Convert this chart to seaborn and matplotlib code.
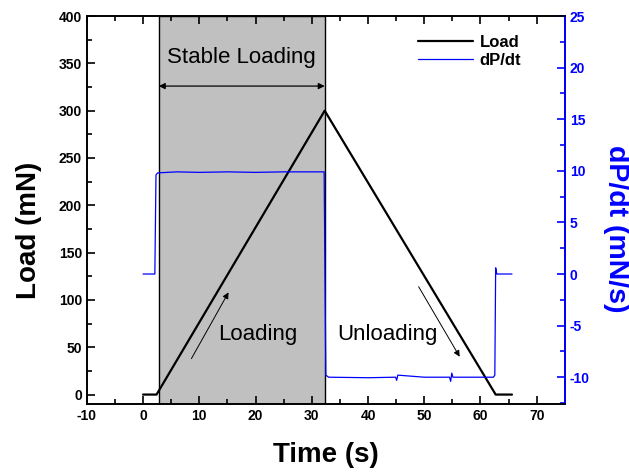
import seaborn as sns
import pandas as pd
import matplotlib.pyplot as plt
from matplotlib.ticker import MultipleLocator

# load curve (mN) vs time (s)
load_time = [0, 2.4, 32.3, 62.7, 65.6]
load_mN = [0, 0, 300, 0, 0]

# loading rate dP/dt (mN/s) vs time (s)
rate_time = [0, 2.1, 2.3, 2.6, 6, 10, 15, 20, 25, 30, 32.2, 32.5, 33, 40,
             44.9, 45.1, 45.3, 50, 54.5, 54.7, 54.9, 55.1, 60, 62.3,
             62.55, 62.7, 62.9, 65.6]
rate_mNs = [0, 0, 9.6, 9.8, 9.9, 9.85, 9.9, 9.85, 9.9, 9.9, 9.9, -9.8, -10,
            -10.05, -10, -10.3, -9.8, -10, -10, -10.4, -9.6, -10, -10, -10,
            -9.8, 0.6, 0, 0]

# stable loading window
stable_start, stable_end = 2.8, 32.3

load_df = pd.DataFrame({'Time': load_time, 'Load': load_mN})
rate_df = pd.DataFrame({'Time': rate_time, 'Rate': rate_mNs})

sns.set_style('ticks')
plt.rcParams['font.family'] = ['Liberation Sans', 'DejaVu Sans']
plt.rcParams['axes.linewidth'] = 1.2
plt.rcParams['axes.unicode_minus'] = False
plt.rcParams['text.color'] = 'black'
plt.rcParams['axes.labelcolor'] = 'black'
plt.rcParams['axes.edgecolor'] = 'black'
plt.rcParams['xtick.color'] = 'black'
plt.rcParams['ytick.color'] = 'black'

fig = plt.figure(figsize=(6.29, 4.72), dpi=100)
ax = fig.add_axes([0.138, 0.144, 0.76, 0.822])
ax2 = ax.twinx()

ax.axvspan(stable_start, stable_end, facecolor='#c0c0c0', edgecolor='black',
           lw=1, zorder=0)

sns.lineplot(data=load_df, x='Time', y='Load', ax=ax, color='black', lw=1.6,
             estimator=None, sort=False, label='Load')
sns.lineplot(data=rate_df, x='Time', y='Rate', ax=ax2, color='#0000ff', lw=0.9,
             estimator=None, sort=False, label='dP/dt')

ax.set_xlim(-10, 75)
ax.set_ylim(-10, 400)
ax2.set_ylim(-12.6, 25)

ax.xaxis.set_major_locator(MultipleLocator(10))
ax.xaxis.set_minor_locator(MultipleLocator(5))
ax.yaxis.set_major_locator(MultipleLocator(50))
ax.yaxis.set_minor_locator(MultipleLocator(25))
ax2.yaxis.set_major_locator(MultipleLocator(5))
ax2.yaxis.set_minor_locator(MultipleLocator(2.5))

ax.tick_params(which='both', direction='in', top=True, right=False,
               labelsize=10, width=1.2)
ax.tick_params(which='major', length=6)
ax.tick_params(which='minor', length=3.5)
ax2.tick_params(which='both', direction='in', colors='#0000ff',
                labelsize=10, width=1.2)
ax2.tick_params(which='major', length=6)
ax2.tick_params(which='minor', length=3.5)
for lab in ax.get_xticklabels() + ax.get_yticklabels() + ax2.get_yticklabels():
    lab.set_fontweight('bold')
ax2.spines['right'].set_color('#0000ff')
ax2.spines['right'].set_linewidth(1.4)

ax.set_xlabel('Time (s)', fontsize=20, fontweight='bold')
ax.set_ylabel('Load (mN)', fontsize=20, fontweight='bold')
ax2.set_ylabel('dP/dt (mN/s)', fontsize=20.5, fontweight='bold',
               color='#0000ff', rotation=270)
ax.xaxis.set_label_coords(0.5, -0.131)
ax.yaxis.set_label_coords(-0.12, 0.448)
ax2.yaxis.set_label_coords(1.107, 0.452)
for lbl in (ax.xaxis.label, ax.yaxis.label, ax2.yaxis.label):
    lbl.set_va('center')
    lbl.set_ha('center')

# annotations
ax.text((stable_start + stable_end) / 2, 356, 'Stable Loading', fontsize=16,
        ha='center', va='center')
ax.annotate('', xy=(stable_start, 326), xytext=(stable_end, 326),
            arrowprops=dict(arrowstyle='<|-|>', color='black', lw=0.9,
                            mutation_scale=9, shrinkA=0, shrinkB=0))
ax.text(20.4, 64, 'Loading', fontsize=16, ha='center', va='center')
ax.annotate('', xy=(15.2, 108), xytext=(8.6, 38),
            arrowprops=dict(arrowstyle='-|>', color='black', lw=0.7,
                            mutation_scale=9, shrinkA=0, shrinkB=0))
ax.text(43.5, 64, 'Unloading', fontsize=16, ha='center', va='center')
ax.annotate('', xy=(56.3, 40), xytext=(49.0, 114),
            arrowprops=dict(arrowstyle='-|>', color='black', lw=0.7,
                            mutation_scale=9, shrinkA=0, shrinkB=0))

h1, l1 = ax.get_legend_handles_labels()
h2, l2 = ax2.get_legend_handles_labels()
ax.get_legend().remove()
ax2.get_legend().remove()
leg = ax2.legend(h1 + h2, l1 + l2, loc='upper right', bbox_to_anchor=(0.94, 0.99),
                 frameon=False, handlelength=3.3, handletextpad=0.4,
                 labelspacing=0.2, prop={'weight': 'bold', 'size': 12})

plt.savefig('out.png', dpi=100)
